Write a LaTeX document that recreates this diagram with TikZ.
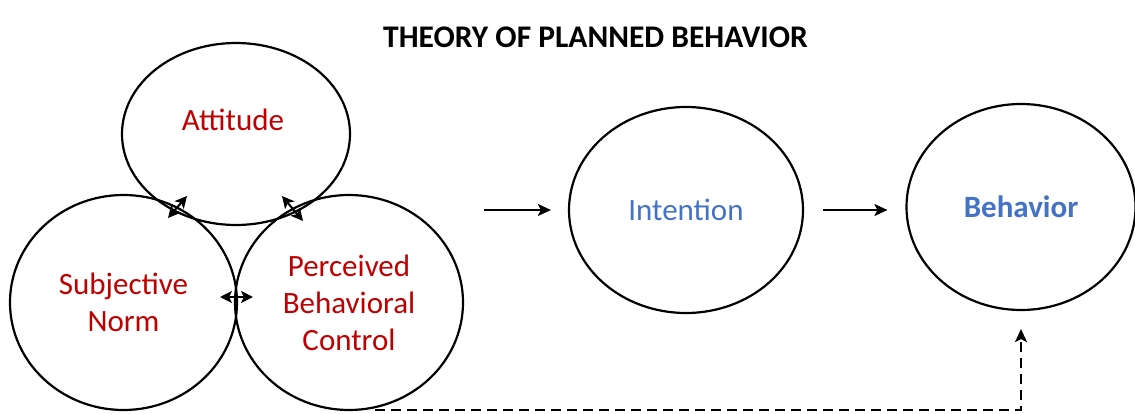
\documentclass[tikz,border=0pt]{standalone}
\usepackage{fontspec}
\setmainfont{Carlito}
\usetikzlibrary{shapes.geometric, arrows.meta}
\definecolor{tpbred}{RGB}{192,0,0}
\definecolor{tpbblue}{RGB}{68,114,196}

\begin{document}
\begin{tikzpicture}[x=1pt, y=-1pt,
    bubble/.style={draw, ellipse, line width=2.2pt, inner sep=0pt, align=center, font=\fontsize{31}{37}\selectfont},
    fac/.style={text=tpbred}, res/.style={text=tpbblue},
    tip/.style={-{Stealth[length=13pt, width=12pt, inset=3pt]}, line width=2pt},
    dbl/.style={{Stealth[length=12pt, width=12pt, inset=3pt]}-{Stealth[length=12pt, width=12pt, inset=3pt]}, line width=2pt}]
    \useasboundingbox (0,0) rectangle (1135,414);
    \node[font=\bfseries\fontsize{31.5}{36}\selectfont] (title) at (595.5,37.5) {THEORY OF PLANNED BEHAVIOR};
    % the three factors
    \node[bubble, minimum width=228pt, minimum height=182pt] (att) at (236,134) {};
    \node[fac, font=\fontsize{31}{37}\selectfont] (attlbl) at (233,120) {Attitude};
    \node[bubble, fac, minimum width=227pt, minimum height=215pt] (sub) at (123.5,302.5) {Subjective\\Norm};
    \node[bubble, fac, minimum width=228pt, minimum height=215pt] (pbc) at (349,302.5) {Perceived\\Behavioral\\Control};
    \node[bubble, res, minimum width=234pt, minimum height=206pt] (int) at (686,210) {Intention};
    \node[bubble, res, font=\bfseries\fontsize{31}{37}\selectfont, minimum width=229pt, minimum height=206pt] (beh) at (1021,207) {Behavior};
    \coordinate (as1) at (168,218); \coordinate (as2) at (187,196);
    \coordinate (ap1) at (282,196); \coordinate (ap2) at (303,221);
    \coordinate (sp1) at (220,297); \coordinate (sp2) at (253,297);
    \coordinate (fb) at (375,410);
    \draw[dbl] (as1) -- (as2);
    \draw[dbl] (ap1) -- (ap2);
    \draw[dbl] (sp1) -- (sp2);
    \draw[tip, shorten <=20pt, shorten >=17pt] (pbc.east |- int.west) -- (int.west);
    \draw[tip, shorten <=19pt, shorten >=18pt] (int.east) -- (beh.west |- int.east);
    \draw[tip, dash pattern=on 10pt off 6pt, shorten >=18pt] (fb) -| (beh.south);% feedback
\end{tikzpicture}
\end{document}
